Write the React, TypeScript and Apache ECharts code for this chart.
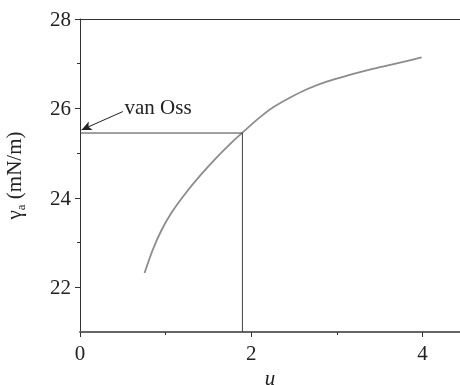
import React, { useEffect, useRef } from "react";
import * as echarts from "echarts";

const curveX = [0.754, 0.85, 0.95, 1.07, 1.22, 1.4, 1.6, 1.8, 1.897, 2.1, 2.26, 2.45, 2.65, 2.88, 3.15, 3.43, 3.7, 3.99];
const curveY = [22.32, 22.84, 23.27, 23.67, 24.07, 24.49, 24.91, 25.29, 25.46, 25.8, 26.03, 26.24, 26.43, 26.6, 26.75, 26.89, 27.01, 27.14];
const guideX = [0, 1.897, 1.897];
const guideY = [25.45, 25.45, 21];
const arrowFrom = [0.5, 25.93];
const arrowTo = [0.018, 25.52];
const noteAt = [0.52, 26.04];
const noteText = "van Oss";
const xMajor = [0, 2, 4];
const xMinor = [1, 3];
const yMajor = [22, 24, 26, 28];
const yMinor = [23, 25, 27];
const X_MIN = 0, X_MAX = 4.438, Y_MIN = 21, Y_MAX = 28;

const FONT = "Liberation Serif";

export default function App() {
  const ref = useRef<HTMLDivElement>(null);
  useEffect(() => {
    const chart = echarts.init(ref.current!, null, { renderer: "svg" });
    const text = { fontFamily: FONT, fontSize: 21, color: "#222" };
    chart.setOption({
      animation: false,
      grid: { left: 80, top: 19, right: 0, bottom: 53, containLabel: false, outerBoundsMode: "none" },
      xAxis: [
        {
          type: "value", min: X_MIN, max: X_MAX, position: "bottom",
          name: "u", nameLocation: "middle", nameGap: 32,
          nameTextStyle: { ...text, fontStyle: "italic" },
          axisLine: { show: true, lineStyle: { color: "#666", width: 2 } },
          axisTick: { show: true, inside: false, length: 5, customValues: xMajor, lineStyle: { color: "#333" } },
          axisLabel: { ...text, margin: 10, customValues: xMajor, formatter: (v: number) => String(v) },
          splitLine: { show: false },
        },
        {
          type: "value", min: X_MIN, max: X_MAX, position: "bottom",
          axisLine: { show: false },
          axisTick: { show: true, length: 3, customValues: xMinor, lineStyle: { color: "#333" } },
          axisLabel: { show: false },
          splitLine: { show: false },
        },
        {
          type: "value", min: X_MIN, max: X_MAX, position: "top",
          axisLine: { show: true, lineStyle: { color: "#333", width: 1 } },
          axisTick: { show: false },
          axisLabel: { show: false },
          splitLine: { show: false },
        },
      ],
      yAxis: [
        {
          type: "value", min: Y_MIN, max: Y_MAX, position: "left",
          name: "{g|γ}{s|a}{g| (mN/m)}", nameLocation: "middle", nameGap: 53,
          nameTextStyle: {
            ...text,
            rich: {
              g: { fontFamily: FONT, fontSize: 21, color: "#222", lineHeight: 26, verticalAlign: "middle" },
              s: { fontFamily: FONT, fontSize: 13, color: "#222", lineHeight: 12, verticalAlign: "bottom" },
            },
          },
          axisLine: { show: true, lineStyle: { color: "#333", width: 1 } },
          axisTick: { show: true, length: 5, customValues: yMajor, lineStyle: { color: "#333" } },
          axisLabel: { ...text, margin: 9, customValues: yMajor, formatter: (v: number) => String(v) },
          splitLine: { show: false },
        },
        {
          type: "value", min: Y_MIN, max: Y_MAX, position: "left",
          axisLine: { show: false },
          axisTick: { show: true, length: 3, customValues: yMinor, lineStyle: { color: "#333" } },
          axisLabel: { show: false },
          splitLine: { show: false },
        },
      ],
      series: [
        {
          type: "line", xAxisIndex: 0, yAxisIndex: 0, smooth: 0.3, showSymbol: false,
          data: curveX.map((x, i) => [x, curveY[i]]),
          lineStyle: { color: "#8c8c8c", width: 1.8 },
        },
        {
          type: "line", xAxisIndex: 0, yAxisIndex: 0, showSymbol: false,
          data: guideX.map((x, i) => [x, guideY[i]]),
          lineStyle: { color: "#444", width: 1 },
          markLine: {
            silent: true,
            symbol: ["none", "arrow"],
            symbolSize: [7, 10],
            label: { show: false },
            lineStyle: { color: "#222", width: 1, type: "solid" },
            data: [[{ coord: arrowFrom }, { coord: arrowTo }]],
          },
          markPoint: {
            silent: true,
            symbol: "circle",
            symbolSize: 0,
            label: { show: true, position: "right", distance: 0, formatter: noteText, ...text },
            data: [{ coord: noteAt }],
          },
        },
      ],
    });
    return () => chart.dispose();
  }, []);
  return <div ref={ref} style={{ position: "fixed", left: 0, top: 0, width: 460, height: 385 }} />;
}
